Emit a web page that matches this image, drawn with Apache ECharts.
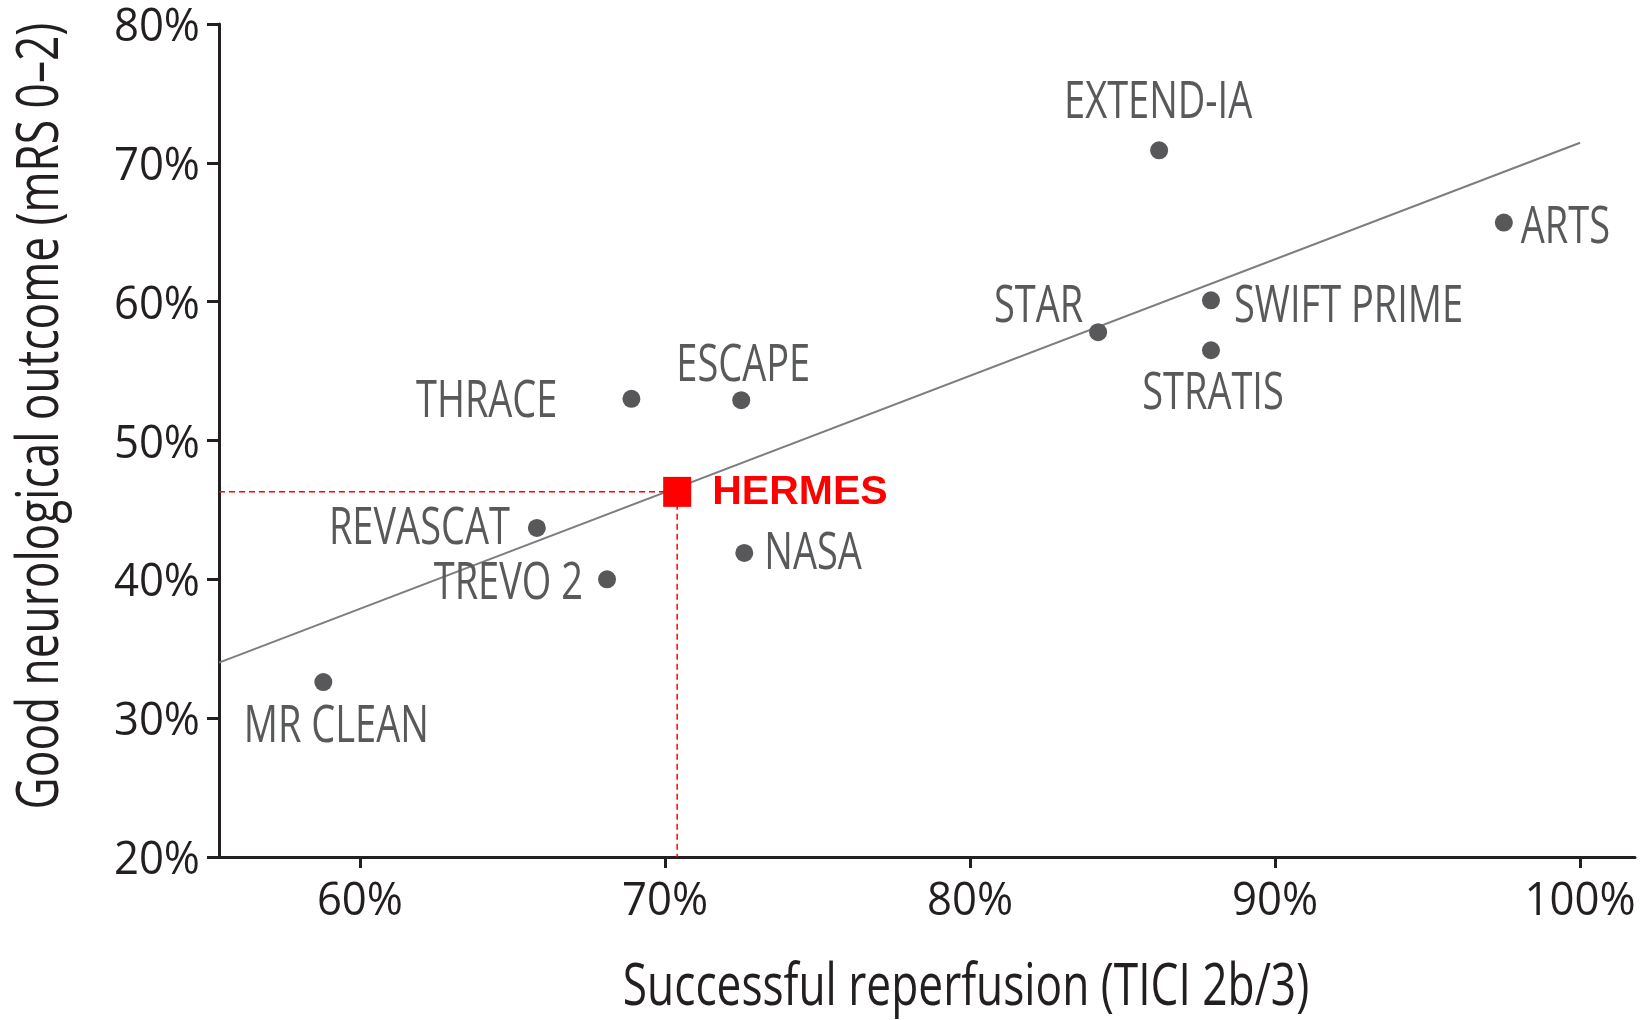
<!DOCTYPE html>
<html>
<head>
<meta charset="utf-8">
<title>Reperfusion vs. good neurological outcome</title>
<script src="https://cdn.jsdelivr.net/npm/echarts@6/dist/echarts.min.js"></script>
<style>
  html, body { margin: 0; padding: 0; background: #ffffff; }
  #chart { width: 1643px; height: 1020px; }
</style>
</head>
<body>
<div id="chart"></div>
<script>
// Individual thrombectomy trials: successful reperfusion (%) vs. mRS 0-2 (%)
const trialNames  = ['MR CLEAN', 'REVASCAT', 'TREVO 2', 'THRACE', 'ESCAPE', 'NASA', 'STAR', 'EXTEND-IA', 'SWIFT PRIME', 'STRATIS', 'ARTS'];
const reperfusion = [58.8, 65.8, 68.1, 68.9, 72.5, 72.6, 84.2, 86.2, 87.9, 87.9, 97.5];
const goodOutcome = [32.6, 43.7, 40.0, 53.0, 52.9, 41.9, 57.8, 70.9, 60.1, 56.5, 65.7];

// Pooled HERMES result
const pooledName = 'HERMES';
const pooledReperfusion = 70.4;
const pooledOutcome = 46.3;

// Fitted trend line end points
const trendX = [55.38, 100];
const trendY = [34.0, 71.45];

// Axis extents and tick values
const xRange = [55.38, 101.8];
const yRange = [20, 80];
const xTickValues = [60, 70, 80, 90, 100];
const yTickValues = [20, 30, 40, 50, 60, 70, 80];

const xTitle = 'Successful reperfusion (TICI 2b/3)';
const yTitle = 'Good neurological outcome (mRS 0\u20132)';

// ---- styling ----
const textFont = "'Open Sans', 'Noto Sans', 'Liberation Sans', sans-serif";
const inkColor = '#231f20';
const labelGrey = '#58595b';
const dotColor = '#58585a';
const red = '#ff0000';
// horizontal squeeze giving the condensed look of the lettering
const condense = { title: 0.75, tick: 0.95, label: 0.745 };

// Where each trial name sits relative to its dot (px offset of the anchor)
const labelPlacement = {
  'MR CLEAN':    { align: 'center', offset: [13, 45] },
  'REVASCAT':    { align: 'right',  offset: [-27, 2] },
  'TREVO 2':     { align: 'right',  offset: [-24, 5] },
  'THRACE':      { align: 'right',  offset: [-74, 4] },
  'ESCAPE':      { align: 'center', offset: [2, -34] },
  'NASA':        { align: 'left',   offset: [20, 2] },
  'STAR':        { align: 'right',  offset: [-15, -25] },
  'EXTEND-IA':   { align: 'center', offset: [-1, -47] },
  'SWIFT PRIME': { align: 'left',   offset: [23, 7] },
  'STRATIS':     { align: 'center', offset: [2, 44] },
  'ARTS':        { align: 'left',   offset: [17, 6] }
};

const trialPoints = trialNames.map((name, i) => ({ name: name, value: [reperfusion[i], goodOutcome[i]] }));

function condensedText(x, y, text, opts) {
  return {
    type: 'text',
    x: x, y: y,
    scaleX: opts.scale,
    rotation: opts.rotation || 0,
    silent: true,
    style: {
      text: text,
      fontFamily: opts.fontFamily || textFont,
      fontSize: opts.fontSize,
      fill: opts.fill,
      align: opts.align || 'center',
      verticalAlign: 'middle'
    }
  };
}

const chart = echarts.init(document.getElementById('chart'), null, { renderer: 'canvas' });

chart.setOption({
  backgroundColor: '#ffffff',
  animation: false,
  grid: { left: 219, right: 8, top: 24, bottom: 163, containLabel: false, outerBoundsMode: 'none' },
  xAxis: {
    type: 'value',
    min: xRange[0],
    max: xRange[1],
    axisLine: { show: true, lineStyle: { color: inkColor, width: 3 } },
    axisTick: { show: true, inside: false, length: 11, customValues: xTickValues, lineStyle: { color: inkColor, width: 3 } },
    axisLabel: { show: false },
    splitLine: { show: false }
  },
  yAxis: {
    type: 'value',
    min: yRange[0],
    max: yRange[1],
    interval: 10,
    axisLine: { show: true, lineStyle: { color: inkColor, width: 3 } },
    axisTick: { show: true, inside: false, length: 12, lineStyle: { color: inkColor, width: 3 } },
    axisLabel: { show: false },
    splitLine: { show: false }
  },
  graphic: [
    condensedText(966, 988, xTitle, { scale: condense.title, fontSize: 59, fill: inkColor }),
    condensedText(41, 416, yTitle, { scale: condense.title, fontSize: 59, fill: inkColor, rotation: Math.PI / 2 })
  ],
  series: [
    {
      // regression line across all trials
      type: 'line',
      data: [[trendX[0], trendY[0]], [trendX[1], trendY[1]]],
      symbol: 'none',
      lineStyle: { color: '#7d7d7d', width: 2 },
      silent: true,
      z: 2
    },
    {
      // dashed guides from the HERMES point to both axes
      type: 'line',
      data: [[xRange[0], pooledOutcome], [pooledReperfusion, pooledOutcome], [pooledReperfusion, yRange[0]]],
      symbol: 'none',
      lineStyle: { color: red, width: 1.5, type: [6, 4] },
      silent: true,
      z: 3
    },
    {
      type: 'scatter',
      data: trialPoints,
      symbol: 'circle',
      symbolSize: 18,
      itemStyle: { color: dotColor, opacity: 1 },
      z: 4
    },
    {
      // trial names beside their dots
      type: 'custom',
      data: trialPoints,
      silent: true,
      clip: false,
      renderItem: function (params, api) {
        const pt = api.coord([api.value(0), api.value(1)]);
        const name = trialNames[params.dataIndex];
        const p = labelPlacement[name];
        return condensedText(pt[0] + p.offset[0], pt[1] + p.offset[1], name,
          { scale: condense.label, fontSize: 51, fill: labelGrey, align: p.align });
      },
      z: 4
    },
    {
      // x tick labels
      type: 'custom',
      data: xTickValues.map(v => [v, yRange[0]]),
      silent: true,
      clip: false,
      renderItem: function (params, api) {
        const pt = api.coord([api.value(0), api.value(1)]);
        return condensedText(pt[0], pt[1] + 45, api.value(0) + '%',
          { scale: condense.tick, fontSize: 46, fill: inkColor, align: 'center' });
      }
    },
    {
      // y tick labels
      type: 'custom',
      data: yTickValues.map(v => [xRange[0], v]),
      silent: true,
      clip: false,
      renderItem: function (params, api) {
        const pt = api.coord([api.value(0), api.value(1)]);
        return condensedText(pt[0] - 19, pt[1] + 4, api.value(1) + '%',
          { scale: condense.tick, fontSize: 46, fill: inkColor, align: 'right' });
      }
    },
    {
      type: 'scatter',
      data: [{ name: pooledName, value: [pooledReperfusion, pooledOutcome] }],
      symbol: 'rect',
      symbolSize: [28, 30],
      itemStyle: { color: red, opacity: 1 },
      label: {
        show: true,
        position: 'inside',
        formatter: '{b}',
        align: 'left',
        verticalAlign: 'middle',
        offset: [35, 1],
        fontFamily: "'Liberation Sans', Arial, sans-serif",
        fontWeight: 'bold',
        fontSize: 41,
        color: red
      },
      z: 5
    }
  ]
});
</script>
</body>
</html>
